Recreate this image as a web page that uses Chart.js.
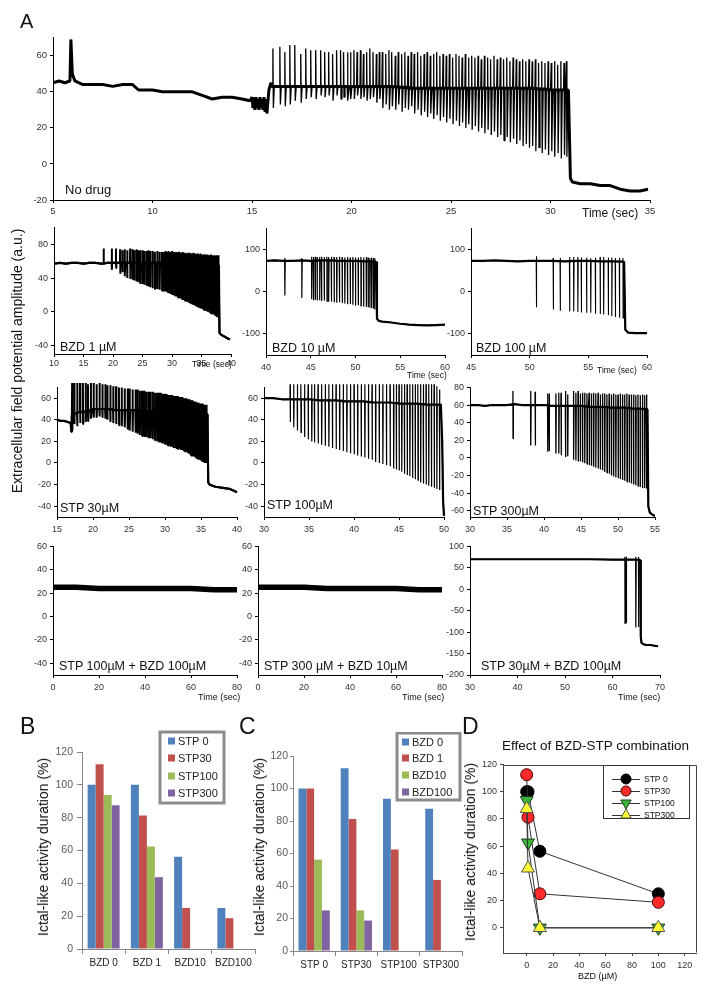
<!DOCTYPE html>
<html>
<head>
<meta charset="utf-8">
<script src="https://cdn.jsdelivr.net/npm/chart.js@4.4.0/dist/chart.umd.min.js"></script>
<style>
html, body { margin: 0; padding: 0; background: #fff; }
#fig { position: relative; width: 704px; height: 990px; overflow: hidden; font-family: "Liberation Sans", Arial, sans-serif; color: #111; }
#fig canvas { position: absolute; }
.t { position: absolute; white-space: nowrap; line-height: 1; }
.r { position: absolute; white-space: nowrap; line-height: 1; transform: translate(-50%, -50%) rotate(-90deg); }
</style>
</head>
<body>
<div id="fig"></div>
<script>
const FONT = '"Liberation Sans", Arial, sans-serif';
const fig = document.getElementById('fig');

// ---------- panel A : recordings (time in s, amplitude a.u.) ----------
// baseline path [time, value]; spikes [time, peak, trough]
const noDrugBase = [[5,45],[5.3,46],[5.6,45],[5.85,46],[5.9,69],[5.97,50],[6.1,46],[6.5,44],[7,44],[7.5,44],[8,43],[8.5,44],[9,44],[9.3,41],[10,41],[10.5,40],[11,40],[11.5,40],[12,40],[12.5,38],[13,36],[13.5,37],[14,37],[14.5,36],[14.9,35],[15.0,37],[15.05,31],[15.1,36],[15.15,30],[15.2,37],[15.25,31],[15.3,36],[15.35,30],[15.4,37],[15.45,31],[15.5,36],[15.55,30],[15.6,37],[15.65,29],[15.7,36],[15.75,28],[15.85,41],[15.95,45],[16.0,43],[17,43],[18,43],[19,43],[20,43],[21,43],[22,43],[23,42],[24,42],[25,42],[26,42],[27,42],[28,42],[29,42],[30,41],[30.9,41],[31.0,-8],[31.1,-10],[31.5,-11],[32,-11],[32.5,-12],[33,-12],[33.5,-14],[34,-15],[34.5,-15],[34.9,-14]];
const noDrugSpikes = [[16.05,64,31],[16.4,65,33],[16.65,62,32],[16.9,66,33],[17.15,66,35],[17.45,61,34],[17.7,64,36],[17.95,63,37],[18.2,63,36],[18.45,63,38],[18.65,62,37],[18.85,62,38],[19.05,61,35],[19.25,63,38],[19.45,63,36],[19.6,62,37],[19.8,62,35],[19.95,62,36],
  [20.12,63,36],[20.28,62,38],[20.45,63,36],[20.6,61,37],[20.76,62,35],[20.92,64,36],[21.08,62,37],[21.25,61,34],[21.4,62,36],[21.55,62,31],[21.72,61,33],[21.88,63,30],[22.03,62,32],[22.2,60,30],[22.35,62,33],[22.52,61,29],[22.68,62,31],[22.84,60,30],[23.0,62,32],[23.15,61,28],[23.32,62,30],[23.48,60,27],[23.65,61,29],[23.8,62,26],[23.96,60,28],[24.12,61,25],[24.28,62,27],[24.44,60,24],[24.6,61,26],[24.76,60,23],[24.92,61,25],[25.08,59,22],[25.25,61,24],[25.4,60,21],[25.56,59,23],[25.72,61,20],[25.88,59,22],[26.04,60,19],[26.2,59,21],[26.36,60,18],[26.52,58,20],[26.68,60,17],[26.84,59,19],[27.0,58,16],[27.16,60,18],[27.32,58,15],[27.48,59,16],[27.64,58,13],[27.8,59,15],[27.96,57,12],[28.12,59,14],[28.28,58,11],[28.44,57,13],[28.6,58,10],[28.76,57,11],[28.92,58,9],[29.08,57,10],[29.24,58,7],[29.4,56,9],[29.56,57,6],[29.72,56,8],[29.88,57,5],[30.04,56,7],[30.2,57,4],[30.36,55,6],[30.52,57,3],[30.68,56,5],[30.8,57,4]];

const bzd1Base = [[10,57],[11,58],[12,57],[13,58],[14,58],[15,57],[16,58],[17,58],[18,57],[19,58],[20,58],[22,58],[24,58],[26,58],[28,58],[30,58],[32,57],[34,57],[36,56],[37.95,55],[38.05,-25],[38.3,-27],[38.8,-29],[39.3,-31],[39.8,-33]];
const bzd1Spikes = [[18.4,75,56],[19.8,75,50],[20.5,75,52],[21.2,74,45],[21.6,73,47],[22.0,74,42],[22.4,73,40],[22.9,75,39],[23.3,74,38],[23.6,73,37],[24.0,74,36],[24.3,73,35],[24.6,73,33],[25.0,73,33],[25.3,72,32],[25.7,72,31],[26.0,73,30],[26.3,72,29],[26.7,72,28],[27.1,71,27],[27.5,72,27],[27.9,71,26],[28.3,71,25],[28.6,71,24],[28.9,72,24],[29.2,71,23],[29.4,72,22],[29.6,71,22],[29.8,71,21],[30.0,72,20],[30.2,71,20],[30.4,71,19],[30.6,70,18],[30.8,71,18],[31.0,70,17],[31.2,71,16],[31.4,70,16],[31.6,70,15],[31.8,71,14],[32.0,70,14],[32.2,70,13],[32.4,69,12],[32.6,70,12],[32.8,69,11],[33.0,70,10],[33.2,69,10],[33.4,69,9],[33.6,70,8],[33.8,69,8],[34.0,69,7],[34.2,68,6],[34.4,69,6],[34.6,68,5],[34.8,69,4],[35.0,68,4],[35.2,68,3],[35.4,68,2],[35.6,68,2],[35.8,67,1],[36.0,68,0],[36.2,67,0],[36.4,67,-1],[36.6,68,-2],[36.8,67,-3],[37.0,67,-3],[37.2,67,-4],[37.4,66,-5],[37.6,67,-6],[37.8,67,-7]];

const bzd10Base = [[40,73],[41,74],[42,73],[43,73],[44,74],[45,73],[46,74],[47,74],[48,73],[49,73],[50,73],[51,72],[52,72],[52.3,71],[52.4,-64],[52.6,-69],[53,-71],[54,-73],[55,-76],[56,-78],[57,-79],[58,-80],[59,-79],[60,-78]];
const bzd10Spikes = [[42.1,80,-9],[44.0,80,-15],[45.1,83,-18],[45.3,82,-20],[45.5,83,-19],[45.7,82,-21],[46.0,82,-20],[46.2,83,-22],[46.5,82,-21],[46.8,83,-23],[47.0,82,-24],[47.3,83,-23],[47.6,82,-25],[47.9,82,-26],[48.2,83,-25],[48.5,82,-27],[48.8,81,-28],[49.1,82,-30],[49.4,81,-29],[49.7,82,-31],[50.0,81,-33],[50.3,81,-32],[50.6,82,-34],[50.9,81,-35],[51.2,82,-36],[51.4,81,-37],[51.6,80,-38],[51.8,81,-39],[52.0,80,-40],[52.15,79,-42]];

const bzd100Base = [[45,73],[46,73],[47,74],[48,73],[49,72],[50,73],[51,73],[52,73],[53,72],[54,73],[55,73],[56,72],[57,72],[58.05,71],[58.15,-90],[58.4,-97],[59,-98],[60,-98]];
const bzd100Spikes = [[50.57,84,-37],[52.0,80,-42],[52.6,80,-45],[53.4,82,-47],[53.75,82,-47],[54.1,82,-48],[54.4,81,-49],[54.85,81,-50],[55.2,79,-50],[55.6,80,-52],[56.0,82,-53],[56.3,82,-54],[56.7,81,-56],[57.0,81,-58],[57.3,80,-60],[57.65,80,-62],[57.95,80,-63]];

const stp30Base = [[15,40],[15.5,39],[16,39],[16.5,38],[16.9,37],[17.0,29],[17.05,44],[17.5,46],[18,47],[19,48],[20,50],[21,50],[22,50],[23,49],[24,49],[25,49],[26,49],[27,48],[28,48],[29,48],[30,48],[31,48],[32,47],[33,47],[34,46],[35,46],[35.9,45],[36.0,-18],[36.2,-20],[37,-22],[38,-23],[39,-24],[40,-27]];
const stp30Spikes = [[17.1,74,30],[17.4,74,36],[17.8,74,34],[18.2,74,37],[18.6,74,36],[19.0,74,38],[19.3,73,39],[19.7,74,41],[20.1,74,42],[20.5,73,42],[20.9,74,43],[21.3,73,42],[21.7,73,41],[22.0,72,40],[22.4,72,38],[22.8,71,37],[23.2,71,36],[23.6,70,35],[24.0,70,34],[24.4,69,33],[24.8,69,31],[25.1,69,30],[25.5,68,29],[25.9,68,28],[26.2,68,27],[26.5,67,26],[26.8,67,25],[27.1,67,24],[27.4,66,24],[27.7,66,23],[28.0,66,23],[28.3,66,22],[28.6,65,21],[28.9,65,20],[29.2,65,19],[29.4,65,19],[29.6,64,18],[29.8,64,18],[30.0,64,17],[30.2,64,17],[30.4,63,16],[30.6,63,16],[30.8,63,15],[31.0,63,15],[31.2,62,14],[31.4,62,14],[31.6,62,13],[31.8,62,13],[32.0,61,13],[32.2,61,12],[32.4,61,12],[32.6,60,11],[32.8,60,10],[33.0,60,10],[33.2,59,9],[33.4,59,8],[33.6,58,7],[33.8,58,6],[34.0,57,6],[34.2,57,5],[34.4,56,4],[34.6,56,3],[34.8,55,3],[35.0,55,2],[35.2,55,1],[35.4,54,1],[35.6,54,0],[35.75,54,0]];

const stp100Base = [[30,60],[31,60],[32,59],[33,59],[34,59],[35,59],[36,58],[37,58],[38,58],[39,57],[40,57],[41,57],[42,56],[43,56],[44,56],[45,55],[46,55],[47,55],[48,54],[49,54],[49.65,54],[49.8,20],[49.9,-35],[50,-49]];
const stp100Spikes = [[32.9,73,38],[33.3,73,33],[33.7,73,30],[34.1,73,28],[34.5,73,24],[34.9,73,22],[35.3,73,20],[35.6,73,19],[36.0,73,18],[36.4,73,17],[36.8,73,16],[37.2,73,15],[37.6,73,14],[38.0,73,13],[38.4,73,12],[38.8,73,11],[39.2,73,10],[39.6,73,9],[40.0,73,8],[40.4,73,7],[40.8,73,6],[41.2,73,5],[41.6,73,4],[42.0,73,3],[42.4,73,1],[42.8,73,0],[43.2,73,-1],[43.6,73,-2],[44.0,73,-3],[44.4,73,-5],[44.7,73,-6],[45.0,73,-7],[45.3,73,-8],[45.6,73,-10],[45.9,73,-11],[46.2,73,-12],[46.5,73,-14],[46.8,73,-15],[47.1,73,-16],[47.4,73,-18],[47.7,73,-19],[48.0,73,-20],[48.3,73,-21],[48.6,73,-22],[48.9,73,-23],[49.2,71,-24],[49.5,68,-25]];

const stp300Base = [[30,60],[31,60],[32,59],[33,60],[34,60],[35,60],[36,61],[37,60],[38,60],[39,60],[40,60],[41,59],[42,59],[43,59],[44,59],[45,59],[46,58],[47,58],[48,58],[49,57],[50,57],[51,57],[52,56],[53,56],[53.98,55],[54.1,-55],[54.3,-62],[54.6,-64],[55,-66]];
const stp300Spikes = [[35.8,76,22],[38.2,76,14],[38.8,75,14],[40.5,73,7],[40.7,73,8],[41.6,73,5],[42.0,74,5],[42.3,74,3],[42.9,76,1],[43.2,72,2],[44.0,76,-2],[44.3,74,-3],[44.6,76,-4],[44.9,73,-4],[45.2,74,-5],[45.5,74,-6],[45.8,73,-7],[46.1,74,-8],[46.4,73,-9],[46.7,74,-10],[47.0,73,-11],[47.3,74,-12],[47.6,72,-13],[47.9,73,-14],[48.2,73,-16],[48.5,72,-17],[48.8,73,-18],[49.1,72,-20],[49.4,73,-21],[49.7,72,-22],[50.0,72,-23],[50.3,73,-24],[50.6,72,-25],[50.9,72,-26],[51.2,73,-27],[51.5,72,-28],[51.8,72,-29],[52.1,72,-30],[52.4,71,-31],[52.7,72,-32],[53.0,71,-33],[53.3,72,-34],[53.6,71,-34],[53.85,72,-35]];

const stp100bzd100Base = [[0,25],[10,25],[20,24],[30,24],[40,24],[50,24],[60,24],[70,23],[80,23]];
const stp300bzd10Base = [[0,25],[10,25],[20,25],[30,24],[40,24],[50,24],[60,24],[70,23],[80,23]];
const stp30bzd100Base = [[30,70],[35,70],[40,70],[45,70],[50,70],[55,70],[60,69],[65,69],[65.85,68],[65.95,-110],[66.1,-125],[66.5,-128],[67,-130],[68,-130],[69,-132],[69.6,-133]];
const stp30bzd100Spikes = [[62.6,76,-80],[62.9,76,-79],[64.9,76,-89],[65.5,75,-88]];

// tick labels
const xt1 = [5,10,15,20,25,30,35], yt1 = [-20,0,20,40,60];
const xtBzd1 = [10,15,20,25,30,35,40], ytBzd1 = [-40,0,40,80];
const xtBzd10 = [40,45,50,55,60], xtBzd100 = [45,50,55,60], ytBzd = [-100,0,100];
const xtStp30 = [15,20,25,30,35,40], xtStp100 = [30,35,40,45,50], ytStp = [-40,-20,0,20,40,60];
const xtStp300 = [30,35,40,45,50,55], ytStp300 = [-60,-40,-20,0,20,40,60,80];
const xtCombo = [0,20,40,60,80], ytCombo = [-40,-20,0,20,40,60];
const xtCombo3 = [30,40,50,60,70], ytCombo3 = [-200,-150,-100,-50,0,50,100];

// ---------- panels B-D : ictal-like activity duration (%) ----------
const bzdCats = ['BZD 0', 'BZD 1', 'BZD10', 'BZD100'];
const stpCats = ['STP 0', 'STP30', 'STP100', 'STP300'];
const bzdDose = [0, 1, 10, 100];
const stp0 = [100, 100, 56.25, 25];
const stp30 = [112.5, 81.25, 25, 18.75];
const stp100 = [93.75, 62.5, 0, 0];
const stp300 = [87.5, 43.75, 0, 0];
const pctTicks = [0, 20, 40, 60, 80, 100, 120];
const doseTicks = [0, 20, 40, 60, 80, 100, 120];

// ---------- helpers ----------
function mkCanvas(box, pad) {
  const c = document.createElement('canvas');
  const w = box[2] - box[0] + pad.l + pad.r, h = box[3] - box[1] + pad.t + pad.b;
  c.width = w; c.height = h;
  c.style.left = (box[0] - pad.l) + 'px';
  c.style.top = (box[1] - pad.t) + 'px';
  c.style.width = w + 'px'; c.style.height = h + 'px';
  fig.appendChild(c);
  return c;
}

function text(str, x, y, size, extra) {
  const d = document.createElement('div');
  d.className = 't';
  d.textContent = str;
  d.style.left = x + 'px'; d.style.top = y + 'px'; d.style.fontSize = size + 'px';
  if (extra) Object.assign(d.style, extra);
  fig.appendChild(d);
}

function vtext(str, cx, cy, size) {
  const d = document.createElement('div');
  d.className = 'r';
  d.textContent = str;
  d.style.left = cx + 'px'; d.style.top = cy + 'px'; d.style.fontSize = size + 'px';
  fig.appendChild(d);
}

// spike: leave baseline, peak, trough, then slower recovery to baseline
function buildTrace(base, spikes, w) {
  const pts = [];
  let si = 0, last = base[0][1];
  const addSpike = s => {
    pts.push({x: s[0] - w, y: last}, {x: s[0], y: s[1]}, {x: s[0] + w, y: s[2]}, {x: s[0] + 3 * w, y: last});
  };
  base.forEach(p => {
    while (si < spikes.length && spikes[si][0] < p[0]) addSpike(spikes[si++]);
    pts.push({x: p[0], y: p[1]});
    last = p[1];
  });
  while (si < spikes.length) addSpike(spikes[si++]);
  return pts;
}

function linAxis(min, max, ticks, isX, pad, tpad, size) {
  return {
    type: 'linear', min: min, max: max,
    afterBuildTicks: s => { s.ticks = ticks.map(v => ({value: v})); },
    afterFit: s => { if (isX) s.height = pad.b; else s.width = pad.l; },
    border: {display: true, color: '#000', width: 1},
    grid: {display: true, drawOnChartArea: false, drawTicks: true, tickLength: 3, color: '#000'},
    ticks: {font: {family: FONT, size: size || 9}, color: '#333', padding: tpad, maxRotation: 0, autoSkip: false}
  };
}

function trace(o) {
  const pad = {l: 40, t: 8, r: 14, b: 20};
  const cv = mkCanvas(o.box, pad);
  const w = (o.x[1] - o.x[0]) * 0.0008;
  const full = buildTrace(o.base, o.spikes || [], w);
  new Chart(cv, {
    type: 'line',
    data: {datasets: [
      {data: o.base.map(p => ({x: p[0], y: p[1]})), borderColor: '#000', borderWidth: o.bw || 2.2, pointRadius: 0, tension: 0, borderJoinStyle: 'bevel', clip: o.clip},
      {data: full, borderColor: '#000', borderWidth: o.sw || 1, pointRadius: 0, tension: 0, borderJoinStyle: 'bevel', clip: o.clip}
    ]},
    options: {
      responsive: false, animation: false, devicePixelRatio: 1,
      layout: {padding: {left: 0, top: pad.t, right: pad.r, bottom: 0}},
      plugins: {legend: {display: false}, tooltip: {enabled: false}},
      scales: {
        x: linAxis(o.x[0], o.x[1], o.xt, true, pad, o.xpad, o.fs),
        y: linAxis(o.y[0], o.y[1], o.yt, false, pad, 3, o.fs)
      }
    }
  });
}

// ---------- panel A ----------
trace({box: [53, 37, 650, 200], x: [5, 35], y: [-20, 70], xt: xt1, yt: yt1, base: noDrugBase, spikes: noDrugSpikes, bw: 3, sw: 1.3, xpad: 2.5, fs: 9.5});
trace({box: [54, 227, 231, 354], x: [10, 40], y: [-50, 100], xt: xtBzd1, yt: ytBzd1, base: bzd1Base, spikes: bzd1Spikes, sw: 2, xpad: 1});
trace({box: [266, 228, 445, 355], x: [40, 60], y: [-150, 150], xt: xtBzd10, yt: ytBzd, base: bzd10Base, spikes: bzd10Spikes, sw: 1.2, xpad: 4});
trace({box: [471, 228, 647, 355], x: [45, 60], y: [-150, 150], xt: xtBzd100, yt: ytBzd, base: bzd100Base, spikes: bzd100Spikes, sw: 1.1, xpad: 4});
trace({box: [57, 387, 237, 517], x: [15, 40], y: [-50, 70], xt: xtStp30, yt: ytStp, base: stp30Base, spikes: stp30Spikes, sw: 2, xpad: 4.5, clip: false});
trace({box: [264, 387, 444, 517], x: [30, 50], y: [-50, 70], xt: xtStp100, yt: ytStp, base: stp100Base, spikes: stp100Spikes, sw: 1.2, xpad: 4.5, clip: false});
trace({box: [470, 387, 655, 517], x: [30, 55], y: [-67, 80], xt: xtStp300, yt: ytStp300, base: stp300Base, spikes: stp300Spikes, sw: 1.3, xpad: 4.5});
trace({box: [53, 546, 237, 675], x: [0, 80], y: [-50, 60], xt: xtCombo, yt: ytCombo, base: stp100bzd100Base, bw: 5.5, xpad: 4.5});
trace({box: [258, 546, 442, 675], x: [0, 80], y: [-50, 60], xt: xtCombo, yt: ytCombo, base: stp300bzd10Base, bw: 5.5, xpad: 4.5});
trace({box: [470, 546, 660, 675], x: [30, 70], y: [-200, 100], xt: xtCombo3, yt: ytCombo3, base: stp30bzd100Base, spikes: stp30bzd100Spikes, sw: 1.2, xpad: 4.5});

// ---------- panels B and C ----------
const barColors = ['#4F81BD', '#C0504D', '#9BBB59', '#8064A2'];

function barChart(box, cats, names, rows, leg, ytpad) {
  const pad = {l: 40, t: 24, r: 8, b: 24};
  const cv = mkCanvas(box, pad);
  const ox = box[0] - pad.l, oy = box[1] - pad.t;
  new Chart(cv, {
    type: 'bar',
    data: {labels: cats, datasets: names.map((n, i) => ({label: n, data: rows[i], backgroundColor: barColors[i], borderWidth: 0, categoryPercentage: 0.74, barPercentage: 1}))},
    options: {
      responsive: false, animation: false, devicePixelRatio: 1,
      layout: {padding: {left: 0, top: pad.t, right: pad.r, bottom: 0}},
      plugins: {legend: {display: false}, tooltip: {enabled: false}},
      scales: {
        x: {afterFit: s => { s.height = pad.b; }, border: {color: '#868686'},
            grid: {offset: true, drawOnChartArea: false, tickLength: 5, color: '#868686'},
            ticks: {font: {family: FONT, size: 10}, color: '#222', padding: 3, maxRotation: 0}},
        y: {min: 0, max: 120, afterBuildTicks: s => { s.ticks = pctTicks.map(v => ({value: v})); },
            afterFit: s => { s.width = pad.l; }, border: {color: '#868686'},
            grid: {drawOnChartArea: false, tickLength: ytpad[0], color: '#868686'},
            ticks: {font: {family: FONT, size: 10.5}, color: '#595959', padding: ytpad[1]}}
      }
    },
    plugins: [{id: 'boxLegend', afterDraw(chart) {
      const c = chart.ctx;
      c.save();
      c.fillStyle = '#fff';
      c.fillRect(leg.x - ox, leg.y - oy, leg.w, leg.h);
      c.strokeStyle = '#8c8c8c'; c.lineWidth = 3;
      c.strokeRect(leg.x - ox, leg.y - oy, leg.w, leg.h);
      c.font = '11px ' + FONT; c.textBaseline = 'middle';
      names.forEach((n, i) => {
        const cy = leg.rows[i] - oy;
        c.fillStyle = barColors[i]; c.fillRect(leg.sq - ox, cy - 3.5, 7, 7);
        c.fillStyle = '#222'; c.fillText(n, leg.tx - ox, cy + 0.5);
      });
      c.restore();
    }}]
  });
}

barChart([82, 752, 255, 949], bzdCats, stpCats, [stp0, stp30, stp100, stp300],
  {x: 160, y: 732, w: 64, h: 71, sq: 168, tx: 178, rows: [741, 758, 776, 793]}, [5, 4]);
barChart([293, 756, 462, 951], stpCats, ['BZD 0', 'BZD 1', 'BZD10', 'BZD100'],
  bzdDose.map((d, j) => [stp0[j], stp30[j], stp100[j], stp300[j]]),
  {x: 397, y: 733, w: 63, h: 67, sq: 402, tx: 412, rows: [742, 758, 775, 792]}, [3, 2]);

// ---------- panel D ----------
const dSeries = [
  {name: 'STP 0', vals: stp0, style: 'circle', rot: 0, r: 6, fill: '#000000', line: '#000000'},
  {name: 'STP30', vals: stp30, style: 'circle', rot: 0, r: 6, fill: '#ff2a2a', line: '#4a0000'},
  {name: 'STP100', vals: stp100, style: 'triangle', rot: 180, r: 7.5, fill: '#3cb43c', line: '#1e3d1e'},
  {name: 'STP300', vals: stp300, style: 'triangle', rot: 0, r: 7.5, fill: '#ffff33', line: '#555555'}
];

function marker(c, s, x, y, r) {
  c.beginPath();
  if (s.style === 'circle') {
    c.arc(x, y, r, 0, Math.PI * 2);
  } else {
    const dir = s.rot ? 1 : -1;
    c.moveTo(x, y + dir * r);
    c.lineTo(x + r * 0.866, y - dir * r * 0.5);
    c.lineTo(x - r * 0.866, y - dir * r * 0.5);
    c.closePath();
  }
  c.fillStyle = s.fill; c.fill();
  c.strokeStyle = s.line; c.lineWidth = 1; c.stroke();
}

(function () {
  const box = [503, 762, 697, 953];
  const pad = {l: 36, t: 6, r: 8, b: 24};
  const cv = mkCanvas(box, pad);
  const ox = box[0] - pad.l, oy = box[1] - pad.t;
  const axis = (min, max, isX) => ({
    type: 'linear', min: min, max: max,
    afterBuildTicks: s => { s.ticks = (isX ? doseTicks : pctTicks).map(v => ({value: v})); },
    afterFit: s => { if (isX) s.height = pad.b; else s.width = pad.l; },
    border: {color: '#444', width: 1},
    grid: {drawOnChartArea: false, tickLength: 3, color: '#444'},
    ticks: {font: {family: FONT, size: 9}, color: '#333', padding: isX ? 4 : 3, maxRotation: 0, autoSkip: false}
  });
  new Chart(cv, {
    type: 'scatter',
    data: {datasets: dSeries.map((s, i) => ({
      label: s.name,
      data: bzdDose.map((d, j) => ({x: d, y: s.vals[j]})),
      showLine: true, borderColor: '#333', borderWidth: 1,
      pointStyle: s.style, rotation: s.rot, pointRadius: s.r,
      pointBackgroundColor: s.fill, pointBorderColor: s.line, pointBorderWidth: 1,
      order: dSeries.length - 1 - i
    }))},
    options: {
      responsive: false, animation: false, devicePixelRatio: 1,
      layout: {padding: {left: 0, top: pad.t, right: pad.r, bottom: 0}},
      plugins: {legend: {display: false}, tooltip: {enabled: false}},
      scales: {x: axis(-18, 129, true), y: axis(-18.5, 120, false)}
    },
    plugins: [{id: 'frameLegend', afterDraw(chart) {
      const c = chart.ctx, a = chart.chartArea;
      c.save();
      c.strokeStyle = '#444'; c.lineWidth = 1;
      c.beginPath();
      c.moveTo(Math.round(a.left) + 0.5, Math.round(a.top) + 0.5);
      c.lineTo(Math.round(a.right) - 0.5, Math.round(a.top) + 0.5);
      c.lineTo(Math.round(a.right) - 0.5, Math.round(a.bottom) - 0.5);
      c.stroke();
      // legend box
      const lx = 603 - ox, ly = 765 - oy;
      c.fillStyle = '#fff'; c.fillRect(lx, ly, 86, 53);
      c.strokeStyle = '#333'; c.strokeRect(lx + 0.5, ly + 0.5, 86, 53);
      const rows = [779, 791, 803, 815];
      c.font = '8.5px ' + FONT; c.textBaseline = 'middle';
      dSeries.forEach((s, i) => {
        const cy = rows[i] - oy;
        c.strokeStyle = '#333'; c.lineWidth = 1;
        c.beginPath(); c.moveTo(612 - ox, cy + 0.5); c.lineTo(640 - ox, cy + 0.5); c.stroke();
        marker(c, s, 626 - ox, cy, s.style === 'circle' ? 5 : 6);
        c.fillStyle = '#111'; c.fillText(s.name, 644 - ox, cy + 0.5);
      });
      c.restore();
    }}]
  });
})();

// ---------- text ----------
text('A', 20, 10.5, 20);
text('No drug', 65, 183, 13);
text('Time (sec)', 582, 206.5, 12);
vtext('Extracellular field potential amplitude (a.u.)', 17, 361, 14);

text('BZD 1 µM', 60, 341, 12.5);
text('BZD 10 µM', 272, 342, 12.5);
text('BZD 100 µM', 476, 342, 12.5);
text('Time (sec)', 192, 360, 8.5);
text('Time (sec)', 407, 371, 8.5);
text('Time (sec)', 597, 366, 8.5);

text('STP 30µM', 60, 502, 12.5);
text('STP 100µM', 267, 499, 12.5);
text('STP 300µM', 473, 505, 12.5);

text('STP 100µM + BZD 100µM', 59, 660, 12.5);
text('STP 300 µM + BZD 10µM', 264, 660, 12.5);
text('STP 30µM + BZD 100µM', 481, 660, 12.5);
text('Time (sec)', 198, 693, 9);
text('Time (sec)', 402, 693, 9);
text('Time (sec)', 618, 693, 9);

text('B', 20, 715, 23);
text('C', 239, 715, 23);
text('D', 462, 715, 23);
vtext('Ictal-like activity duration (%)', 43, 847, 14);
vtext('Ictal-like activity duration (%)', 259, 847, 14);
vtext('Ictal-like activity duration (%)', 470, 852, 14);
text('Effect of BZD-STP combination', 502, 739, 13.5);
text('BZD (µM)', 578, 972, 9);
</script>
</body>
</html>
